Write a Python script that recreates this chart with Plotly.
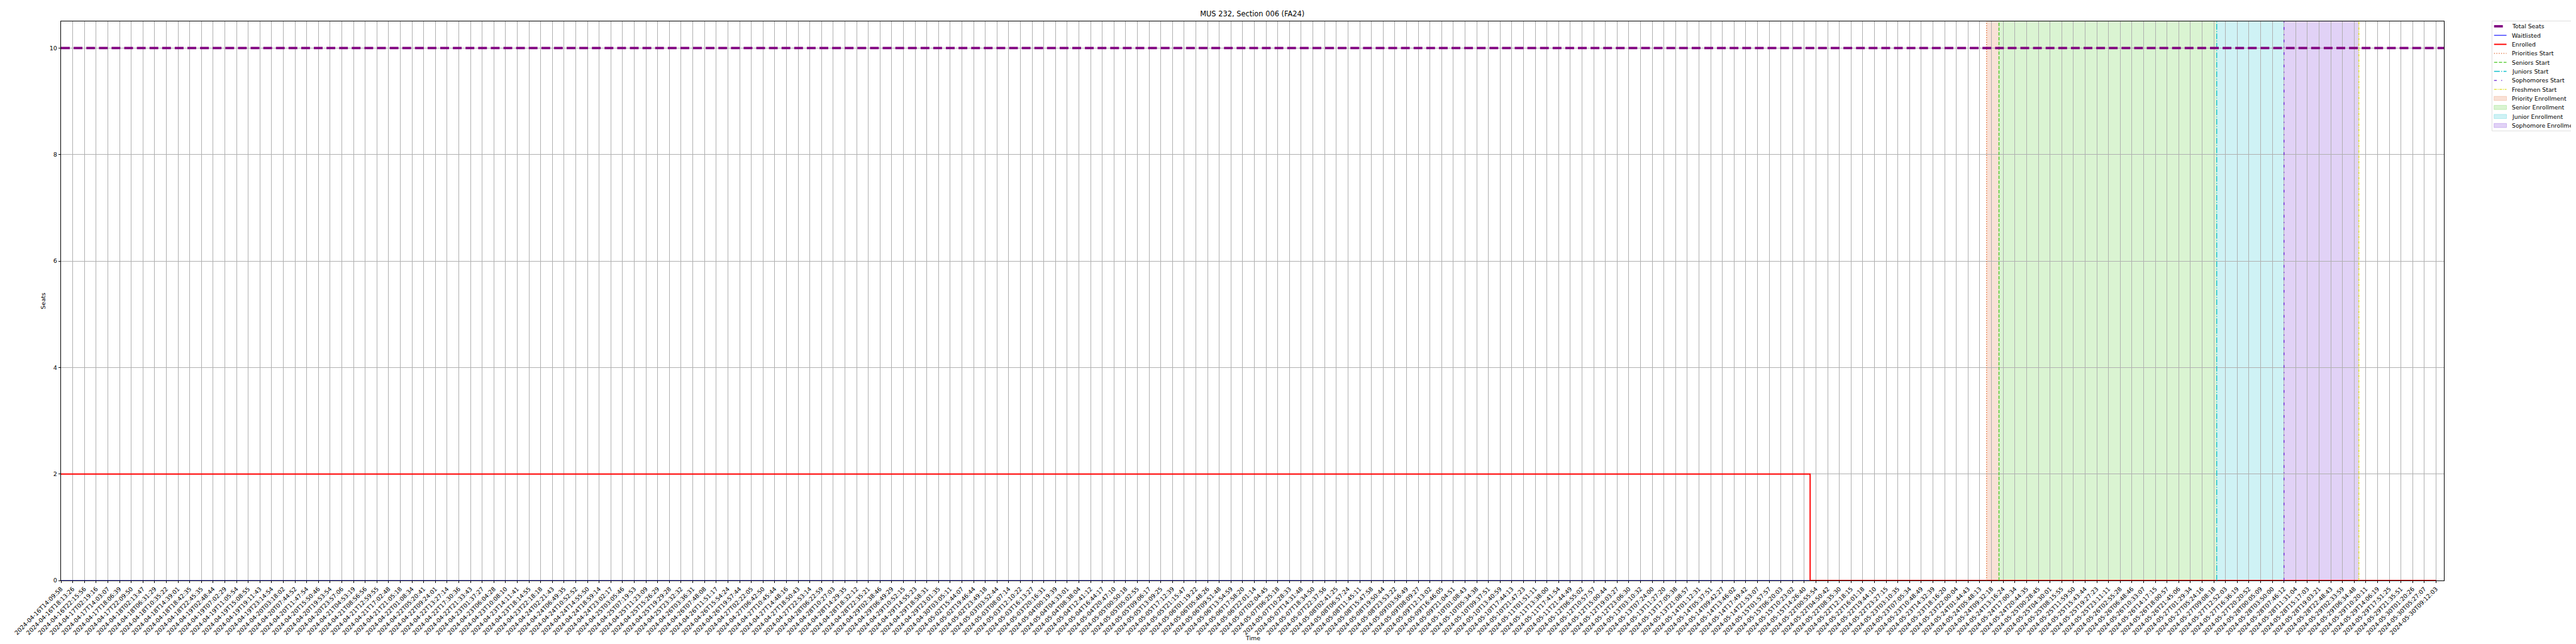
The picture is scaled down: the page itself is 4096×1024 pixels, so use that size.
import plotly.graph_objects as go

# ---------------- data ----------------
timestamps = [
    "2024-04-16T14:09:58", "2024-04-16T18:13:26", "2024-04-16T22:15:56", "2024-04-17T02:19:16",
    "2024-04-17T14:03:07", "2024-04-17T18:06:39", "2024-04-17T22:09:50", "2024-04-18T02:13:47",
    "2024-04-18T06:31:29", "2024-04-18T10:35:22", "2024-04-18T14:39:01", "2024-04-18T18:42:35",
    "2024-04-18T22:45:35", "2024-04-19T02:48:44", "2024-04-19T07:02:29", "2024-04-19T11:05:54",
    "2024-04-19T15:08:55", "2024-04-19T19:11:43", "2024-04-19T23:14:54", "2024-04-20T03:18:02",
    "2024-04-20T07:44:52", "2024-04-20T11:47:54", "2024-04-20T15:50:46", "2024-04-20T19:53:54",
    "2024-04-20T23:57:06", "2024-04-21T04:53:19", "2024-04-21T08:56:56", "2024-04-21T12:59:55",
    "2024-04-21T17:02:48", "2024-04-21T21:05:18", "2024-04-22T01:08:34", "2024-04-22T05:20:41",
    "2024-04-22T09:24:01", "2024-04-22T13:27:14", "2024-04-22T17:30:36", "2024-04-22T21:33:43",
    "2024-04-23T01:37:27", "2024-04-23T06:04:28", "2024-04-23T10:08:10", "2024-04-23T14:11:41",
    "2024-04-23T18:14:55", "2024-04-23T22:18:18", "2024-04-24T02:21:43", "2024-04-24T06:49:35",
    "2024-04-24T10:52:52", "2024-04-24T14:55:50", "2024-04-24T18:59:14", "2024-04-24T23:02:17",
    "2024-04-25T03:05:46", "2024-04-25T07:19:53", "2024-04-25T11:23:09", "2024-04-25T15:26:29",
    "2024-04-25T19:29:28", "2024-04-25T23:32:32", "2024-04-26T03:36:31", "2024-04-26T07:48:08",
    "2024-04-26T11:51:17", "2024-04-26T15:54:24", "2024-04-26T19:57:44", "2024-04-27T02:22:05",
    "2024-04-27T06:42:50", "2024-04-27T10:45:44", "2024-04-27T14:48:16", "2024-04-27T18:50:43",
    "2024-04-27T22:53:14", "2024-04-28T06:22:59", "2024-04-28T10:27:03", "2024-04-28T14:29:35",
    "2024-04-28T18:32:12", "2024-04-28T22:35:21", "2024-04-29T02:38:46", "2024-04-29T06:49:29",
    "2024-04-29T10:52:15", "2024-04-29T14:55:23", "2024-04-29T18:58:31", "2024-04-29T23:01:35",
    "2024-04-30T03:05:11", "2024-05-02T15:44:07", "2024-05-02T19:46:44", "2024-05-02T23:49:18",
    "2024-05-03T03:52:44", "2024-05-03T08:07:14", "2024-05-03T12:10:22", "2024-05-03T16:13:27",
    "2024-05-03T20:16:31", "2024-05-04T00:19:39", "2024-05-04T04:33:01", "2024-05-04T08:38:04",
    "2024-05-04T12:41:12", "2024-05-04T16:44:17", "2024-05-04T20:47:10", "2024-05-05T00:50:18",
    "2024-05-05T05:02:55", "2024-05-05T09:06:17", "2024-05-05T13:09:25", "2024-05-05T17:12:39",
    "2024-05-05T21:15:47", "2024-05-06T01:19:22", "2024-05-06T05:48:26", "2024-05-06T09:51:48",
    "2024-05-06T13:54:59", "2024-05-06T17:58:20", "2024-05-06T22:01:14", "2024-05-07T02:04:45",
    "2024-05-07T06:25:18", "2024-05-07T10:28:33", "2024-05-07T14:31:48", "2024-05-07T18:34:50",
    "2024-05-07T22:37:56", "2024-05-08T02:41:25", "2024-05-08T06:57:24", "2024-05-08T11:45:11",
    "2024-05-08T15:47:58", "2024-05-08T19:50:44", "2024-05-08T23:53:22", "2024-05-09T03:56:49",
    "2024-05-09T08:09:27", "2024-05-09T12:13:02", "2024-05-09T16:46:05", "2024-05-09T21:04:51",
    "2024-05-10T01:08:43", "2024-05-10T05:34:38", "2024-05-10T09:37:51", "2024-05-10T13:40:59",
    "2024-05-10T17:44:13", "2024-05-10T21:47:23", "2024-05-11T01:51:11", "2024-05-11T13:38:00",
    "2024-05-11T17:41:54", "2024-05-11T21:44:49", "2024-05-12T06:55:02", "2024-05-12T10:57:57",
    "2024-05-12T15:00:44", "2024-05-12T19:03:27", "2024-05-12T23:06:30", "2024-05-13T03:10:32",
    "2024-05-13T07:24:00", "2024-05-13T11:27:20", "2024-05-13T17:05:38", "2024-05-13T21:08:57",
    "2024-05-14T01:12:31", "2024-05-14T05:37:51", "2024-05-14T09:42:27", "2024-05-14T13:46:02",
    "2024-05-14T17:49:42", "2024-05-14T21:53:07", "2024-05-15T01:57:57", "2024-05-15T06:20:03",
    "2024-05-15T10:23:02", "2024-05-15T14:26:40", "2024-05-22T00:55:54", "2024-05-22T04:50:42",
    "2024-05-22T08:35:30", "2024-05-22T12:18:15", "2024-05-22T16:01:18", "2024-05-22T19:44:10",
    "2024-05-22T23:27:15", "2024-05-23T03:10:35", "2024-05-23T07:05:34", "2024-05-23T10:48:49",
    "2024-05-23T14:32:39", "2024-05-23T18:16:20", "2024-05-23T22:00:04", "2024-05-24T01:44:43",
    "2024-05-24T05:48:13", "2024-05-24T09:32:18", "2024-05-24T13:16:24", "2024-05-24T17:00:34",
    "2024-05-24T20:44:35", "2024-05-25T00:28:45", "2024-05-25T04:30:01", "2024-05-25T08:15:55",
    "2024-05-25T11:59:50", "2024-05-25T15:43:44", "2024-05-25T19:27:23", "2024-05-25T23:11:11",
    "2024-05-26T02:55:28", "2024-05-26T06:48:46", "2024-05-26T10:33:07", "2024-05-26T14:17:15",
    "2024-05-26T18:00:57", "2024-05-26T21:45:06", "2024-05-27T01:29:34", "2024-05-27T05:24:16",
    "2024-05-27T09:08:18", "2024-05-27T12:52:03", "2024-05-27T16:36:19", "2024-05-27T20:20:52",
    "2024-05-28T00:05:09", "2024-05-28T03:50:00", "2024-05-28T07:46:12", "2024-05-28T11:31:04",
    "2024-05-28T15:17:03", "2024-05-28T19:03:21", "2024-05-28T22:48:43", "2024-05-29T02:33:59",
    "2024-05-29T06:34:48", "2024-05-29T10:20:11", "2024-05-29T14:06:19", "2024-05-29T17:51:25",
    "2024-05-29T21:35:51", "2024-05-30T01:20:26", "2024-05-30T05:27:07", "2024-05-30T09:12:03",
]

enrolled = [
    2, 2, 2, 2, 2, 2, 2, 2, 2, 2, 2, 2, 2, 2, 2, 2, 2, 2, 2, 2,
    2, 2, 2, 2, 2, 2, 2, 2, 2, 2, 2, 2, 2, 2, 2, 2, 2, 2, 2, 2,
    2, 2, 2, 2, 2, 2, 2, 2, 2, 2, 2, 2, 2, 2, 2, 2, 2, 2, 2, 2,
    2, 2, 2, 2, 2, 2, 2, 2, 2, 2, 2, 2, 2, 2, 2, 2, 2, 2, 2, 2,
    2, 2, 2, 2, 2, 2, 2, 2, 2, 2, 2, 2, 2, 2, 2, 2, 2, 2, 2, 2,
    2, 2, 2, 2, 2, 2, 2, 2, 2, 2, 2, 2, 2, 2, 2, 2, 2, 2, 2, 2,
    2, 2, 2, 2, 2, 2, 2, 2, 2, 2, 2, 2, 2, 2, 2, 2, 2, 2, 2, 2,
    2, 2, 2, 2, 2, 2, 2, 2, 2, 2, 0, 0, 0, 0, 0, 0, 0, 0, 0, 0,
    0, 0, 0, 0, 0, 0, 0, 0, 0, 0, 0, 0, 0, 0, 0, 0, 0, 0, 0, 0,
    0, 0, 0, 0, 0, 0, 0, 0, 0, 0, 0, 0, 0, 0, 0, 0, 0, 0, 0, 0,
    0, 0, 0, 0,
]

waitlisted = [
    0, 0, 0, 0, 0, 0, 0, 0, 0, 0, 0, 0, 0, 0, 0, 0, 0, 0, 0, 0,
    0, 0, 0, 0, 0, 0, 0, 0, 0, 0, 0, 0, 0, 0, 0, 0, 0, 0, 0, 0,
    0, 0, 0, 0, 0, 0, 0, 0, 0, 0, 0, 0, 0, 0, 0, 0, 0, 0, 0, 0,
    0, 0, 0, 0, 0, 0, 0, 0, 0, 0, 0, 0, 0, 0, 0, 0, 0, 0, 0, 0,
    0, 0, 0, 0, 0, 0, 0, 0, 0, 0, 0, 0, 0, 0, 0, 0, 0, 0, 0, 0,
    0, 0, 0, 0, 0, 0, 0, 0, 0, 0, 0, 0, 0, 0, 0, 0, 0, 0, 0, 0,
    0, 0, 0, 0, 0, 0, 0, 0, 0, 0, 0, 0, 0, 0, 0, 0, 0, 0, 0, 0,
    0, 0, 0, 0, 0, 0, 0, 0, 0, 0, 0, 0, 0, 0, 0, 0, 0, 0, 0, 0,
    0, 0, 0, 0, 0, 0, 0, 0, 0, 0, 0, 0, 0, 0, 0, 0, 0, 0, 0, 0,
    0, 0, 0, 0, 0, 0, 0, 0, 0, 0, 0, 0, 0, 0, 0, 0, 0, 0, 0, 0,
    0, 0, 0, 0,
]

total_seats = 10

# phase start positions (in category-index units on the x axis)
phase_start_names = ["Priorities Start", "Seniors Start", "Juniors Start",
                     "Sophomores Start", "Freshmen Start"]
phase_start_pos = [164.58, 165.64, 184.25, 190.0, 196.4]
span_names = ["Priority Enrollment", "Senior Enrollment", "Junior Enrollment", "Sophomore Enrollment"]

title_text = "MUS 232, Section 006 (FA24)"
x_label = "Time"
y_label = "Seats"
y_ticks = [0, 2, 4, 6, 8, 10]

# ---------------- styles ----------------
S = 0.6827
FONT = "DejaVu Sans, Verdana, sans-serif"
phase_colors = ["#e06a30", "#45c81e", "#10c0cc", "#6a20d0", "#dddd22"]
phase_dash = ["1.4px,2.35px", "5.3px,2.3px", "9.1px,2.3px,1.4px,2.3px",
              "4.3px,7.1px,1.4px,7.1px", "4.3px,1.4px,1.4px,1.4px"]
span_fill = ["rgba(224,106,48,0.2)", "rgba(69,200,30,0.2)", "rgba(16,192,204,0.2)", "rgba(106,32,208,0.2)"]
span_edge = ["rgba(224,106,48,0.3)", "rgba(69,200,30,0.3)", "rgba(16,192,204,0.3)", "rgba(106,32,208,0.3)"]
TS_COLOR, TS_W, TS_DASH = "#800080", 5.5 * S, "14px,6.1px"
WL_COLOR, WL_W = "#0000ff", 1.6 * S
EN_COLOR, EN_W = "#ff0000", 2.8 * S
VL_W = 2.0 * S
LEG_FS = 9.3

idx = list(range(len(timestamps)))

fig = go.Figure()
fig.add_trace(go.Scatter(
    x=idx, y=waitlisted, mode="lines", name="Waitlisted", showlegend=False,
    line=dict(color=WL_COLOR, width=WL_W, shape="hv"),
))
fig.add_trace(go.Scatter(
    x=idx, y=enrolled, mode="lines", name="Enrolled", showlegend=False,
    line=dict(color=EN_COLOR, width=EN_W, shape="hvh"),
))

# plot-area geometry (pixels in the 4096x1024 page)
L, R, T, B = 88.8, 3877.6, 25.9, 914.8
W, H = 4096, 1024


def px_x(p):
    return (p - L) / (R - L)


def px_y(p):
    return (B - p) / (B - T)


shapes = []
for i, fc in enumerate(span_fill):
    shapes.append(dict(type="rect", xref="x", yref="y domain",
                       x0=phase_start_pos[i], x1=phase_start_pos[i + 1], y0=0, y1=1,
                       fillcolor=fc, line=dict(width=0), layer="below"))
for pos, col, dsh in zip(phase_start_pos, phase_colors, phase_dash):
    shapes.append(dict(type="line", xref="x", yref="y domain",
                       x0=pos, x1=pos, y0=0, y1=1,
                       line=dict(color=col, width=VL_W, dash=dsh), layer="above"))
# total seats (horizontal line across the axes)
shapes.append(dict(type="line", xref="x domain", yref="y", x0=0, x1=1,
                   y0=total_seats, y1=total_seats,
                   line=dict(color=TS_COLOR, width=TS_W, dash=TS_DASH), layer="above"))

# ---------------- legend (drawn manually to match matplotlib spacing) ----------------
LG_L, LG_T, LG_B = 3954.0, 25.3, 200.0
ROW0, ROWSTEP = 33.7, 14.34
H0, H1, TXT = 3957.3, 3977.1, 3983.6
shapes.append(dict(type="rect", xref="paper", yref="paper",
                   x0=px_x(LG_L), x1=px_x(4110), y0=px_y(LG_B), y1=px_y(LG_T),
                   fillcolor="rgba(255,255,255,0.8)", line=dict(color="#d6d6d6", width=0.8),
                   layer="above"))

legend_entries = []  # (label, kind, style)
legend_entries.append(("Total Seats", "line", dict(color=TS_COLOR, width=TS_W, dash=TS_DASH)))
legend_entries.append(("Waitlisted", "line", dict(color=WL_COLOR, width=WL_W)))
legend_entries.append(("Enrolled", "line", dict(color=EN_COLOR, width=EN_W)))
for name, col, dsh in zip(phase_start_names, phase_colors, phase_dash):
    legend_entries.append((name, "line", dict(color=col, width=VL_W, dash=dsh)))
for name, fc, ec in zip(span_names, span_fill, span_edge):
    legend_entries.append((name, "patch", dict(fill=fc, edge=ec)))

annotations = []
for k, (label, kind, st) in enumerate(legend_entries):
    yc = ROW0 + ROWSTEP * k
    if kind == "line":
        shapes.append(dict(type="line", xref="paper", yref="paper",
                           x0=px_x(H0), x1=px_x(H1), y0=px_y(yc), y1=px_y(yc),
                           line=st, layer="above"))
    else:
        shapes.append(dict(type="rect", xref="paper", yref="paper",
                           x0=px_x(H0), x1=px_x(H1), y0=px_y(yc + 3.3), y1=px_y(yc - 3.3),
                           fillcolor=st["fill"], line=dict(color=st["edge"], width=0.8),
                           layer="above"))
    annotations.append(dict(text=label, xref="paper", yref="paper", x=px_x(TXT), y=px_y(yc),
                            xanchor="left", yanchor="middle", showarrow=False,
                            font=dict(family=FONT, size=LEG_FS, color="black")))

annotations.append(dict(text=x_label, xref="paper", yref="paper", x=0.5, y=px_y(1006),
                        xanchor="center", yanchor="middle", showarrow=False,
                        font=dict(family=FONT, size=13.9 * S, color="black")))
annotations.append(dict(text=y_label, xref="paper", yref="paper", x=px_x(60), y=0.5,
                        xanchor="center", yanchor="middle", showarrow=False, textangle=-90,
                        font=dict(family=FONT, size=13.9 * S, color="black")))

fig.update_layout(
    width=W, height=H,
    margin=dict(l=L, r=W - R, t=T, b=H - B, pad=0),
    plot_bgcolor="white", paper_bgcolor="white",
    font=dict(family=FONT, size=13.9 * S, color="black"),
    shapes=shapes, annotations=annotations,
    showlegend=False,
    title=dict(text=title_text, x=(L + R) / 2 / W, xanchor="center", xref="container",
               y=1 - 14 / H, yanchor="middle", yref="container",
               font=dict(family=FONT, size=16.7 * S, color="black")),
)

fig.update_xaxes(
    type="linear", range=[0, 203.67],
    tickmode="array", tickvals=idx, ticktext=timestamps, tickangle=-45,
    ticks="outside", ticklen=4.9 * S, tickwidth=1.1 * S, tickcolor="black",
    showgrid=True, gridcolor="#b0b0b0", gridwidth=1.1 * S,
    showline=True, linecolor="black", linewidth=1.1 * S, mirror=True,
    zeroline=False, tickfont=dict(family=FONT, size=13.9 * S),
)
fig.update_yaxes(
    range=[0, 10.5], tickmode="array", tickvals=y_ticks,
    ticks="outside", ticklen=4.9 * S, tickwidth=1.1 * S, tickcolor="black",
    showgrid=True, gridcolor="#b0b0b0", gridwidth=1.1 * S,
    showline=True, linecolor="black", linewidth=1.1 * S, mirror=True,
    zeroline=False, tickfont=dict(family=FONT, size=13.9 * S),
)

fig.write_html("out.html")
